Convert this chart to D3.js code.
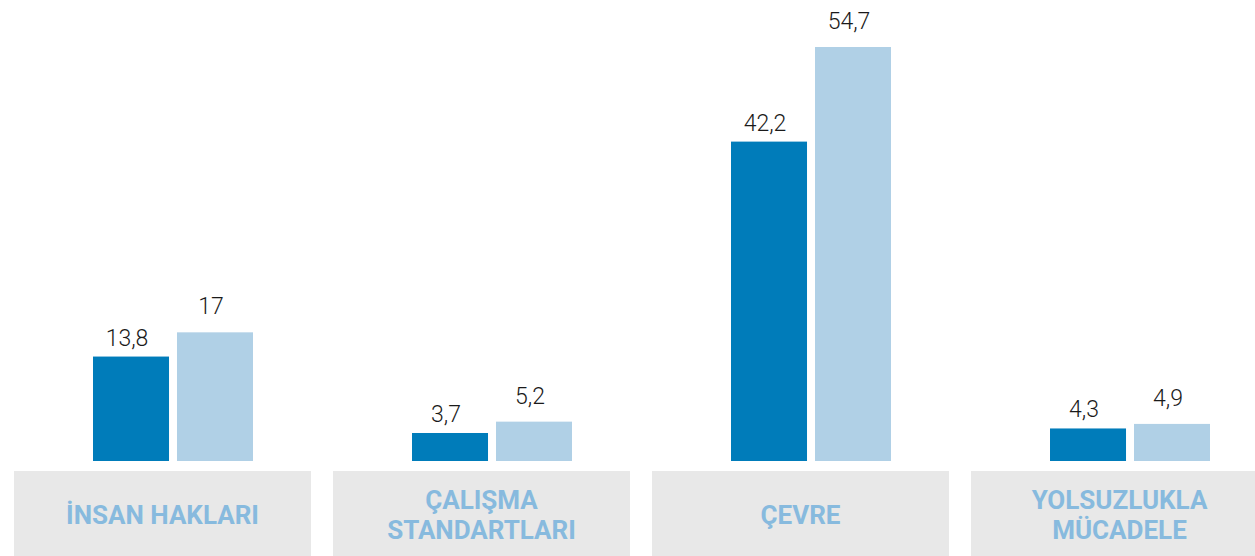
<!DOCTYPE html>
<html>
<head>
<meta charset="utf-8">
<script src="https://cdn.jsdelivr.net/npm/d3@7"></script>
<style>
  html, body { margin: 0; padding: 0; background: #fff; }
  svg { display: block; }
</style>
</head>
<body>
<div id="chart"></div>
<script>
// kategoriler ve seriler
const categories = ["İNSAN HAKLARI", "ÇALIŞMA STANDARTLARI", "ÇEVRE", "YOLSUZLUKLA MÜCADELE"];
const categoryLines = [["İNSAN HAKLARI"], ["ÇALIŞMA", "STANDARTLARI"], ["ÇEVRE"], ["YOLSUZLUKLA", "MÜCADELE"]];
const seriesKeys = ["s1", "s2"];
const series1 = [13.8, 3.7, 42.2, 4.3];
const series2 = [17, 5.2, 54.7, 4.9];

const width = 1255;
const height = 556;
const baseline = 461;
const colors = {s1: "#007cba", s2: "#b0d0e6"};
const labelGap = {s1: 11, s2: 18};

const fmt = v => String(v).replace(".", ",");

const svg = d3.select("#chart").append("svg")
    .attr("width", width)
    .attr("height", height);

// kutular için grup ölçeği
const x0 = d3.scaleBand()
    .domain(categories)
    .range([14, 1268])
    .paddingInner(0.069)
    .paddingOuter(0);

// grup içindeki iki çubuk
const x1 = d3.scaleBand()
    .domain(seriesKeys)
    .range([0, 160])
    .paddingInner(0.095);

const y = d3.scaleLinear()
    .domain([0, 54.7])
    .range([baseline, 47]);

const data = categories.map((c, i) => ({
    cat: c,
    lines: categoryLines[i],
    vals: [{key: "s1", v: series1[i]}, {key: "s2", v: series2[i]}]
}));

// gri etiket kutuları
svg.selectAll("rect.box")
    .data(data)
    .enter().append("rect")
    .attr("class", "box")
    .attr("x", d => x0(d.cat))
    .attr("y", 471)
    .attr("width", x0.bandwidth())
    .attr("height", height - 471)
    .attr("fill", "#e8e8e8");

const lbl = svg.selectAll("text.cat")
    .data(data)
    .enter().append("text")
    .attr("class", "cat")
    .attr("text-anchor", "middle")
    .attr("font-family", "Roboto, 'Noto Sans', sans-serif")
    .attr("font-weight", 700)
    .attr("font-size", 26)
    .attr("fill", "#87bade");

lbl.each(function(d) {
    const t = d3.select(this);
    const cx = x0(d.cat) + x0.bandwidth() / 2;
    const n = d.lines.length;
    d.lines.forEach((line, j) => {
        t.append("tspan")
            .attr("x", cx)
            .attr("y", 524 + (j - (n - 1) / 2) * 30)
            .text(line);
    });
});

const g = svg.selectAll("g.grp")
    .data(data)
    .enter().append("g")
    .attr("class", "grp")
    .attr("transform", d => "translate(" + (x0(d.cat) + 79) + ",0)");

g.selectAll("rect.bar")
    .data(d => d.vals)
    .enter().append("rect")
    .attr("class", "bar")
    .attr("x", d => x1(d.key))
    .attr("y", d => y(d.v))
    .attr("width", x1.bandwidth())
    .attr("height", d => baseline - y(d.v))
    .attr("fill", d => colors[d.key]);

g.selectAll("text.val")
    .data(d => d.vals)
    .enter().append("text")
    .attr("class", "val")
    .attr("x", d => x1(d.key) + x1.bandwidth() / 2 - 4)
    .attr("y", d => y(d.v) - labelGap[d.key])
    .attr("text-anchor", "middle")
    .attr("font-family", "Roboto, 'Noto Sans', sans-serif")
    .attr("font-weight", 300)
    .attr("font-size", 23)
    .attr("fill", "#1a1a1a")
    .text(d => fmt(d.v));
</script>
</body>
</html>
